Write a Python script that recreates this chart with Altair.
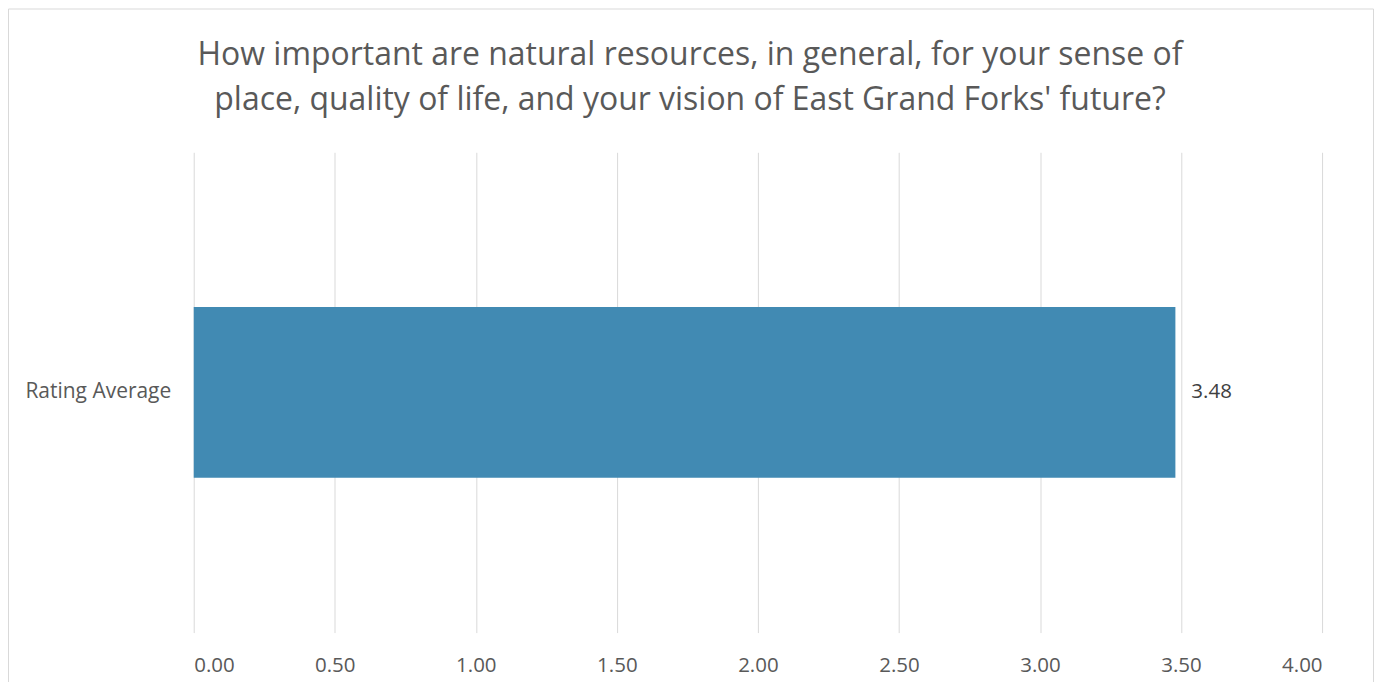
import altair as alt
import pandas as pd

categories = ["Rating Average"]
values = [3.48]
value_labels = ["3.48"]
tick_values = [0, 0.5, 1.0, 1.5, 2.0, 2.5, 3.0, 3.5, 4.0]
title_lines = [
    "How important are natural resources, in general, for your sense of",
    "place, quality of life, and your vision of East Grand Forks' future?",
]

df = pd.DataFrame({"category": categories, "value": values, "label": value_labels})

FONT = "Open Sans"

x_enc = alt.X(
    "value:Q",
    scale=alt.Scale(domain=[0, 4], nice=False, zero=True),
    axis=alt.Axis(
        values=tick_values,
        format=".2f",
        title=None,
        domain=False,
        ticks=False,
        grid=True,
        gridColor="#d9d9d9",
        gridWidth=1,
        labelFont=FONT,
        labelFontSize=20.5,
        labelColor="#595959",
        labelPadding=23,
    ),
)
y_enc = alt.Y(
    "category:N",
    scale=alt.Scale(paddingInner=0.4755, paddingOuter=0.4755),
    axis=alt.Axis(
        title=None,
        domain=False,
        ticks=False,
        grid=False,
        labelFont=FONT,
        labelFontSize=21,
        labelColor="#595959",
        labelPadding=23,
    ),
)

bars = alt.Chart(df).mark_bar(color="#418AB3").encode(x=x_enc, y=y_enc)

labels = alt.Chart(df).mark_text(
    align="left", baseline="middle", dx=16, font=FONT, fontSize=20.5, color="#404040"
).encode(x="value:Q", y="category:N", text="label:N")

frame = alt.Chart(df).mark_rect(fill=None, stroke="#d9d9d9", strokeWidth=1).encode(
    x=alt.value(-185.5), x2=alt.value(1181.5), y=alt.value(-143.5), y2=alt.value(560)
)

chart = (
    alt.layer(frame, bars, labels)
    .properties(
        width=1130,
        height=481,
        background="white",
        title=alt.TitleParams(
            text=title_lines,
            anchor="middle",
            font=FONT,
            fontSize=32,
            fontWeight="normal",
            color="#595959",
            lineHeight=45,
            baseline="alphabetic",
            dx=-68,
            dy=134,
            offset=0,
        ),
        autosize=alt.AutoSizeParams(type="none"),
        padding={"left": 186, "top": 144, "right": 52, "bottom": 49},
    )
    .configure_view(strokeWidth=0, stroke="transparent")
)

chart.save("out.html", embed_options={"renderer": "svg", "actions": False})
